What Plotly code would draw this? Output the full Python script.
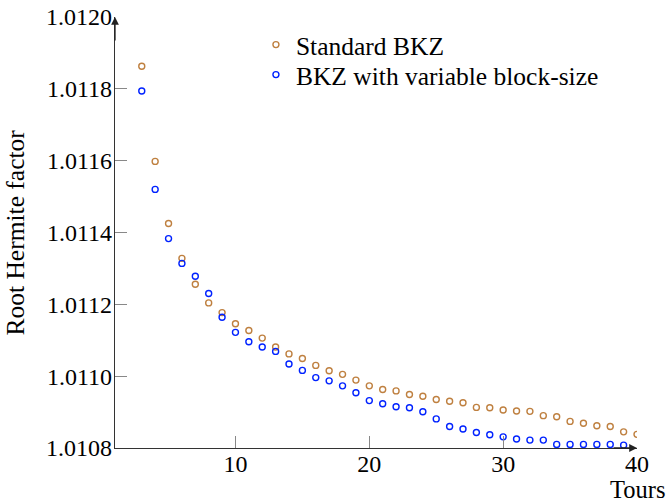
import plotly.graph_objects as go

tours_std = list(range(3, 41))
std_bkz = [1.011863, 1.011598, 1.011425, 1.011328, 1.011256, 1.011204, 1.011177, 1.011146,
           1.011127, 1.011106, 1.011081, 1.011062, 1.011049, 1.011030, 1.011015, 1.011005,
           1.010989, 1.010973, 1.010963, 1.010959, 1.010949, 1.010944, 1.010935, 1.010930,
           1.010926, 1.010913, 1.010912, 1.010906, 1.010903, 1.010902, 1.010890, 1.010887,
           1.010874, 1.010869, 1.010862, 1.010860, 1.010845, 1.010838]

tours_var = list(range(3, 40))
var_bkz = [1.011794, 1.011520, 1.011383, 1.011314, 1.011278, 1.011230, 1.011164, 1.011122,
           1.011096, 1.011081, 1.011069, 1.011034, 1.011016, 1.010996, 1.010987, 1.010973,
           1.010954, 1.010932, 1.010923, 1.010915, 1.010912, 1.010901, 1.010881, 1.010860,
           1.010853, 1.010843, 1.010837, 1.010831, 1.010825, 1.010822, 1.010822, 1.010810,
           1.010810, 1.010810, 1.010810, 1.010810, 1.010808]

x_ticks = [10, 20, 30, 40]
y_ticks = [1.0108, 1.0110, 1.0112, 1.0114, 1.0116, 1.0118, 1.0120]
y_tick_labels = ["1.0108", "1.0110", "1.0112", "1.0114", "1.0116", "1.0118", "1.0120"]

FONT = "Liberation Serif, DejaVu Serif, serif"
BROWN = "#bf8040"
BLUE = "#0022ff"
TICK_SIZE = 24
TEXT_SIZE = 25.5

fig = go.Figure()
fig.add_trace(go.Scatter(
    x=tours_std, y=std_bkz, mode="markers", name="Standard BKZ", legend="legend",
    marker=dict(symbol="circle-open", size=6, color=BROWN, line=dict(width=1.4, color=BROWN)),
))
fig.add_trace(go.Scatter(
    x=tours_var, y=var_bkz, mode="markers", name="BKZ with variable block-size", legend="legend2",
    marker=dict(symbol="circle-open", size=6, color=BLUE, line=dict(width=1.4, color=BLUE)),
))

legend_style = dict(x=0.27, xanchor="left", yanchor="middle",
                    bgcolor="rgba(0,0,0,0)", borderwidth=0,
                    font=dict(family=FONT, size=TEXT_SIZE), itemwidth=30)

fig.update_layout(
    width=671, height=504,
    margin=dict(l=115, r=34, t=17, b=56, autoexpand=False),
    paper_bgcolor="white", plot_bgcolor="white",
    font=dict(family=FONT, size=TICK_SIZE, color="black"),
    showlegend=True,
    legend=dict(y=0.935, **legend_style),
    legend2=dict(y=0.8654, **legend_style),
    xaxis=dict(range=[1, 40], tickvals=x_ticks, ticks="inside", ticklen=12,
               tickcolor="#888888", tickwidth=1.2, showgrid=False, zeroline=False,
               showline=True, linecolor="#333333", linewidth=1.3, mirror=False,
               automargin=False, ticklabelstandoff=-6, ticklabeloverflow="allow",
               tickfont=dict(family=FONT, size=TICK_SIZE)),
    yaxis=dict(range=[1.0108, 1.0120], tickvals=y_ticks, ticktext=y_tick_labels,
               ticks="inside", ticklen=12, tickcolor="#888888", tickwidth=1.2,
               showgrid=False, zeroline=False, showline=True, linecolor="#333333",
               linewidth=1.3, mirror=False, automargin=False, ticklabelstandoff=-3,
               ticklabeloverflow="allow",
               tickfont=dict(family=FONT, size=TICK_SIZE)),
)

# axis arrows
fig.add_annotation(xref="paper", yref="paper", x=1, y=0, ax=-25, ay=0, text="",
                   showarrow=True, arrowhead=2, arrowsize=1.2, arrowwidth=1.3, arrowcolor="#222222")
fig.add_annotation(xref="paper", yref="paper", x=0, y=1, ax=0, ay=25, text="",
                   showarrow=True, arrowhead=2, arrowsize=1.2, arrowwidth=1.3, arrowcolor="#222222")

# axis titles
fig.add_annotation(xref="paper", yref="paper", x=1, y=0, yshift=-41, xanchor="center",
                   yanchor="middle", text="Tours", showarrow=False,
                   font=dict(family=FONT, size=24.5))
fig.add_annotation(xref="paper", yref="paper", x=-0.1915, y=0.5, textangle=-90,
                   xanchor="center", yanchor="middle", text="Root Hermite factor",
                   showarrow=False, font=dict(family=FONT, size=TEXT_SIZE))

fig.write_html("out.html", config={"displayModeBar": False},
               post_script="document.body.style.margin='0';")
